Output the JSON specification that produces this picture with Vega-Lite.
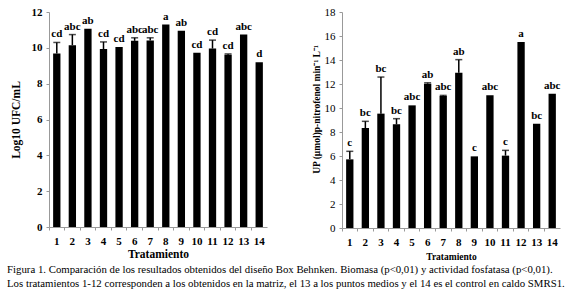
{
  "$schema": "https://vega.github.io/schema/vega-lite/v6.json",
  "padding": {"left": 7, "top": 6, "right": 4, "bottom": 4},
  "background": "white",
  "datasets": {
    "biomasa": [
      {"t": 1, "v": 9.69, "e": 10.30, "lab": "cd"},
      {"t": 2, "v": 10.15, "e": 10.74, "lab": "abc"},
      {"t": 3, "v": 11.06, "e": null, "lab": "ab"},
      {"t": 4, "v": 9.93, "e": 10.33, "lab": "cd"},
      {"t": 5, "v": 10.04, "e": null, "lab": "cd"},
      {"t": 6, "v": 10.39, "e": 10.56, "lab": "abc"},
      {"t": 7, "v": 10.41, "e": 10.56, "lab": "abc"},
      {"t": 8, "v": 11.30, "e": null, "lab": "a"},
      {"t": 9, "v": 10.96, "e": null, "lab": "ab"},
      {"t": 10, "v": 9.72, "e": null, "lab": "cd"},
      {"t": 11, "v": 9.96, "e": 10.43, "lab": "cd"},
      {"t": 12, "v": 9.61, "e": 9.66, "lab": "cd"},
      {"t": 13, "v": 10.74, "e": null, "lab": "abc"},
      {"t": 14, "v": 9.20, "e": null, "lab": "d"}
    ],
    "fosfatasa": [
      {"t": 1, "v": 5.72, "e": 6.39, "lab": "c"},
      {"t": 2, "v": 8.33, "e": 8.89, "lab": "bc"},
      {"t": 3, "v": 9.53, "e": 12.58, "lab": "bc"},
      {"t": 4, "v": 8.64, "e": 9.11, "lab": "bc"},
      {"t": 5, "v": 10.22, "e": null, "lab": "abc"},
      {"t": 6, "v": 12.03, "e": 12.10, "lab": "ab"},
      {"t": 7, "v": 11.0, "e": 11.05, "lab": "abc"},
      {"t": 8, "v": 12.94, "e": 14.03, "lab": "ab"},
      {"t": 9, "v": 5.97, "e": null, "lab": "c"},
      {"t": 10, "v": 11.06, "e": null, "lab": "abc"},
      {"t": 11, "v": 6.03, "e": 6.47, "lab": "c"},
      {"t": 12, "v": 15.5, "e": null, "lab": "a"},
      {"t": 13, "v": 8.69, "e": null, "lab": "bc"},
      {"t": 14, "v": 11.19, "e": null, "lab": "abc"}
    ]
  },
  "title": {
    "text": [
      "Figura 1. Comparación de los resultados obtenidos del diseño Box Behnken. Biomasa (p<0,01) y actividad fosfatasa (p<0,01).",
      "Los tratamientos 1-12 corresponden a los obtenidos en la matriz, el 13 a los puntos medios y el 14 es el control en caldo SMRS1."
    ],
    "orient": "bottom",
    "anchor": "start",
    "font": "Liberation Serif",
    "fontSize": 10.8,
    "fontWeight": "normal",
    "color": "black",
    "lineHeight": 14.5,
    "offset": 3,
    "dx": -3
  },
  "config": {
    "view": {"stroke": null},
    "font": "Liberation Serif",
    "axis": {
      "grid": false,
      "domainColor": "#999999",
      "tickColor": "#999999",
      "tickSize": 3,
      "labelFont": "Liberation Serif",
      "labelColor": "black",
      "titleFont": "Liberation Serif",
      "titleColor": "black",
      "labelFontWeight": "bold",
      "labelFontSize": 11,
      "titleFontWeight": "bold",
      "labelOverlap": false
    },
    "concat": {"spacing": 44}
  },
  "hconcat": [
    {
      "width": 218,
      "height": 215,
      "data": {"name": "biomasa"},
      "transform": [{"calculate": "datum.e == null ? datum.v : datum.e", "as": "ly"}],
      "encoding": {
        "x": {
          "field": "t", "type": "ordinal",
          "scale": {"paddingInner": 0, "paddingOuter": 0},
          "axis": {"title": "Tratamiento", "labelAngle": 0, "bandPosition": 0, "titleFontSize": 11.5, "labelPadding": 5, "titlePadding": 2}
        }
      },
      "layer": [
        {
          "mark": {"type": "bar", "color": "black", "width": {"band": 0.47}},
          "encoding": {
            "y": {"field": "v", "type": "quantitative",
              "scale": {"domain": [0, 12]},
              "axis": {"title": "Log10 UFC/mL", "values": [0, 2, 4, 6, 8, 10, 12], "tickCount": 7, "labelOverlap": false, "titleFontSize": 11.5, "labelPadding": 4, "titlePadding": 10}}
          }
        },
        {
          "transform": [{"filter": "datum.e != null"}],
          "mark": {"type": "rule", "color": "black", "strokeWidth": 1.5},
          "encoding": {"y": {"field": "v", "type": "quantitative", "axis": {"title": "Log10 UFC/mL", "values": [0, 2, 4, 6, 8, 10, 12], "tickCount": 7}}, "y2": {"field": "e"}}
        },
        {
          "transform": [{"filter": "datum.e != null"}],
          "mark": {"type": "tick", "color": "black", "size": 7, "thickness": 1.5},
          "encoding": {"y": {"field": "e", "type": "quantitative", "axis": {"title": "Log10 UFC/mL", "values": [0, 2, 4, 6, 8, 10, 12], "tickCount": 7}}}
        },
        {
          "mark": {"type": "text", "baseline": "bottom", "dy": -3, "fontSize": 11, "fontWeight": "bold", "font": "Liberation Serif"},
          "encoding": {"y": {"field": "ly", "type": "quantitative", "axis": {"title": "Log10 UFC/mL", "values": [0, 2, 4, 6, 8, 10, 12], "tickCount": 7}}, "text": {"field": "lab"}}
        }
      ]
    },
    {
      "width": 218,
      "height": 216,
      "data": {"name": "fosfatasa"},
      "transform": [{"calculate": "datum.e == null ? datum.v : datum.e", "as": "ly"}],
      "encoding": {
        "x": {
          "field": "t", "type": "ordinal",
          "scale": {"paddingInner": 0, "paddingOuter": 0},
          "axis": {"title": "Tratamiento", "labelAngle": 0, "bandPosition": 0, "titleFontSize": 9.5, "labelPadding": 5, "titlePadding": 4}
        }
      },
      "layer": [
        {
          "mark": {"type": "bar", "color": "black", "width": {"band": 0.47}},
          "encoding": {
            "y": {"field": "v", "type": "quantitative",
              "scale": {"domain": [0, 18]},
              "axis": {"title": "UP (µmol)p-nitrofenol min⁻¹ L⁻¹", "values": [0, 2, 4, 6, 8, 10, 12, 14, 16, 18], "tickCount": 10, "labelOverlap": false, "labelFontWeight": "normal", "titleFontSize": 9.5, "labelPadding": 4, "titlePadding": 3, "titleY": 97}}
          }
        },
        {
          "transform": [{"filter": "datum.e != null"}],
          "mark": {"type": "rule", "color": "black", "strokeWidth": 1.5},
          "encoding": {"y": {"field": "v", "type": "quantitative", "axis": {"title": "UP (µmol)p-nitrofenol min⁻¹ L⁻¹", "values": [0, 2, 4, 6, 8, 10, 12, 14, 16, 18], "tickCount": 10}}, "y2": {"field": "e"}}
        },
        {
          "transform": [{"filter": "datum.e != null"}],
          "mark": {"type": "tick", "color": "black", "size": 7, "thickness": 1.5},
          "encoding": {"y": {"field": "e", "type": "quantitative", "axis": {"title": "UP (µmol)p-nitrofenol min⁻¹ L⁻¹", "values": [0, 2, 4, 6, 8, 10, 12, 14, 16, 18], "tickCount": 10}}}
        },
        {
          "mark": {"type": "text", "baseline": "bottom", "dy": -3, "fontSize": 11, "fontWeight": "bold", "font": "Liberation Serif"},
          "encoding": {"y": {"field": "ly", "type": "quantitative", "axis": {"title": "UP (µmol)p-nitrofenol min⁻¹ L⁻¹", "values": [0, 2, 4, 6, 8, 10, 12, 14, 16, 18], "tickCount": 10}}, "text": {"field": "lab"}}
        }
      ]
    }
  ]
}
